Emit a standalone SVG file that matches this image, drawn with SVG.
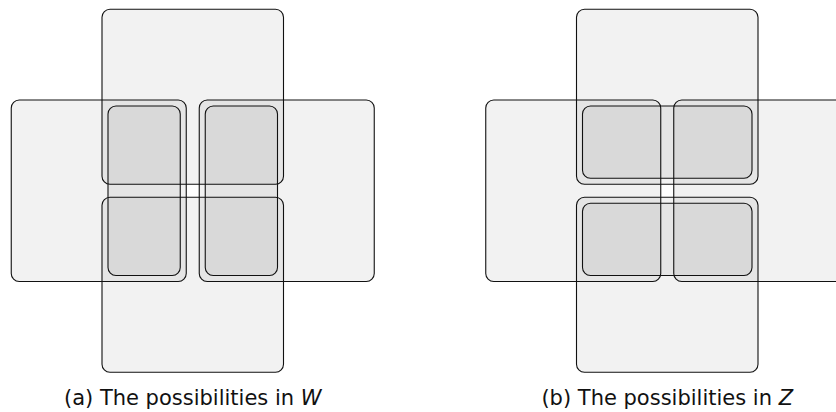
<svg xmlns="http://www.w3.org/2000/svg" width="836" height="412" viewBox="0 0 836 412">
<style>
.p{fill:#000;fill-opacity:0.05;stroke:#111;stroke-width:1.1}
.lbl{font-family:"DejaVu Sans",sans-serif;font-size:21px;fill:#111;text-anchor:middle}
</style>
<rect width="836" height="412" fill="#fff"/>
<g id="panel-a">
  <g id="a-top"><rect class="p" x="102" y="9.25" width="181.5" height="175" rx="8"/></g>
  <g id="a-bottom"><rect class="p" x="102" y="197.25" width="181.5" height="175" rx="8"/></g>
  <g id="a-left"><rect class="p" x="11.25" y="100" width="175" height="181.5" rx="8"/></g>
  <g id="a-right"><rect class="p" x="199.25" y="100" width="175" height="181.5" rx="8"/></g>
  <g id="a-col-left"><rect class="p" x="108" y="106" width="72.25" height="169.5" rx="8"/></g>
  <g id="a-col-right"><rect class="p" x="205.25" y="106" width="72.25" height="169.5" rx="8"/></g>
  <text class="lbl" x="192.75" y="404.5">(a) The possibilities in <tspan font-style="italic">W</tspan></text>
</g>
<g id="panel-b">
  <g id="b-top"><rect class="p" x="576.5" y="9.25" width="181.5" height="175" rx="8"/></g>
  <g id="b-bottom"><rect class="p" x="576.5" y="197.25" width="181.5" height="175" rx="8"/></g>
  <g id="b-left"><rect class="p" x="485.75" y="100" width="175" height="181.5" rx="8"/></g>
  <g id="b-right"><rect class="p" x="673.75" y="100" width="175" height="181.5" rx="8"/></g>
  <g id="b-row-top"><rect class="p" x="582.5" y="106" width="169.5" height="72.25" rx="8"/></g>
  <g id="b-row-bottom"><rect class="p" x="582.5" y="203.25" width="169.5" height="72.25" rx="8"/></g>
  <text class="lbl" x="667.25" y="404.5">(b) The possibilities in <tspan font-style="italic">Z</tspan></text>
</g>
<g id="connectors"/>
</svg>
